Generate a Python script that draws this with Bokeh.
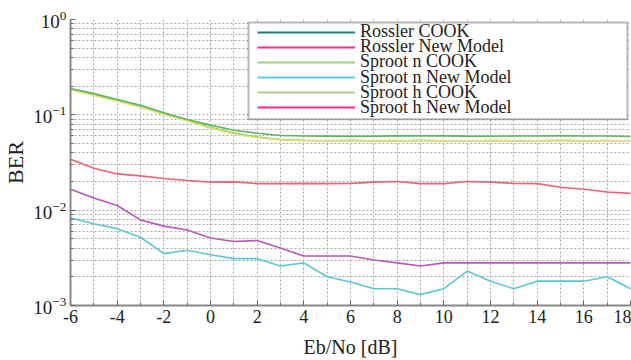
from bokeh.plotting import figure
from bokeh.models import (FixedTicker, LogTickFormatter, CustomJSTickFormatter, Legend,
                          LegendItem, ColumnDataSource, BoxAnnotation)
from bokeh.embed import file_html
from bokeh.resources import INLINE

# ---- data -------------------------------------------------------------
ebno = list(range(-6, 19))

rossler_cook = [0.189, 0.167, 0.145, 0.126, 0.105, 0.0895, 0.078, 0.069, 0.064, 0.0606,
                0.0599, 0.0598, 0.0594, 0.0597, 0.0602, 0.0604, 0.0601, 0.0598, 0.0597,
                0.0599, 0.0600, 0.0601, 0.0600, 0.0600, 0.0592]
sproot_n_cook = [0.183, 0.160, 0.139, 0.120, 0.101, 0.086, 0.0725, 0.063, 0.0575, 0.0545,
                 0.0535, 0.0538, 0.0532, 0.0536, 0.0540, 0.0534, 0.0537, 0.0533, 0.0536,
                 0.0538, 0.0534, 0.0537, 0.0535, 0.0533, 0.0534]
sproot_h_cook = [0.186, 0.163, 0.142, 0.123, 0.103, 0.087, 0.074, 0.0645, 0.0585, 0.0552,
                 0.0540, 0.0535, 0.0540, 0.0533, 0.0532, 0.0540, 0.0535, 0.0532, 0.0538,
                 0.0533, 0.0535, 0.0540, 0.0533, 0.0536, 0.0535]
rossler_new = [0.0342, 0.0275, 0.0240, 0.0229, 0.0215, 0.0205, 0.0197, 0.0198, 0.0190,
               0.0190, 0.0191, 0.0190, 0.0191, 0.0197, 0.0200, 0.0190, 0.0190, 0.0200,
               0.0197, 0.0191, 0.0190, 0.0174, 0.0166, 0.0155, 0.0150]
sproot_h_new = [0.0166, 0.0134, 0.0112, 0.0079, 0.0068, 0.0062, 0.0051, 0.0047, 0.0048,
                0.0040, 0.0033, 0.0033, 0.0033, 0.0030, 0.0028, 0.0026, 0.0028, 0.0028,
                0.0028, 0.0028, 0.0028, 0.0028, 0.0028, 0.0028, 0.0028]
sproot_n_new = [0.0083, 0.0072, 0.0064, 0.0052, 0.0035, 0.0038, 0.0034, 0.0031, 0.0031,
                0.0026, 0.0028, 0.0020, 0.00176, 0.0015, 0.0015, 0.0013, 0.0015, 0.0023,
                0.0018, 0.0015, 0.0018, 0.0018, 0.0018, 0.0020, 0.0015]

series_names = ["Rossler COOK", "Rossler New Model", "Sproot n COOK",
                "Sproot n New Model", "Sproot h COOK", "Sproot h New Model"]

x_ticks = list(range(-6, 19, 2))
x_minor = list(range(-5, 18, 2))
y_ticks = [1e-3, 1e-2, 1e-1, 1.0]
y_minor = [m * 10.0 ** e for e in (-3, -2, -1) for m in range(2, 10)]

# ---- figure -------------------------------------------------------------
FONT = "Liberation Serif"
W, H = 631, 360
FL, FT, FB = 70, 19, 306          # frame left / top / bottom in page pixels
p = figure(width=W, height=H, output_backend="svg", toolbar_location=None,
           y_axis_type="log", x_range=(-6, 18), y_range=(1e-3, 1.0),
           min_border_left=FL, min_border_right=1, min_border_top=FT,
           min_border_bottom=H - FB, background_fill_color="white",
           border_fill_color="white", outline_line_color=None)

src = ColumnDataSource(dict(x=ebno, rc=rossler_cook, snc=sproot_n_cook, shc=sproot_h_cook,
                            rn=rossler_new, shn=sproot_h_new, snn=sproot_n_new))

lw = 1.6
p.line("x", "shc", source=src, line_color="#8cc870", line_width=lw)
p.line("x", "snc", source=src, line_color="#e4e07a", line_width=lw)
p.line("x", "rc", source=src, line_color="#5cb860", line_width=lw)
p.line("x", "rn", source=src, line_color="#f26272", line_width=lw)
p.line("x", "shn", source=src, line_color="#b858b8", line_width=lw)
p.line("x", "snn", source=src, line_color="#5cc8d2", line_width=lw)

# ---- legend frame (page pixels -> data position) ------------------------
def x_at(px):
    return (px - FL) / ((W - 1 - FL) / 24.0) - 6

def y_at(py):
    return 10 ** (-3.0 * (py - FT) / (FB - FT))

frame_box = BoxAnnotation(left=x_at(248), right=x_at(627), top=y_at(22), bottom=y_at(119),
                          fill_color="white", fill_alpha=1.0,
                          line_color="#111111", line_width=2, level="annotation")
p.add_layout(frame_box)

# one single-row legend per entry, so rows can sit as close as in the reference
legend_colors = ["#1e8070", "#ff2a8a", "#a0d080", "#5ccfe6", "#a8d090", "#ff2a8a"]
row0, pitch, row_h = 32.7, 15.1, 22
for i, (name, col) in enumerate(zip(series_names, legend_colors)):
    r = p.line(x=[ebno[0]], y=[float("nan")], line_color=col, line_width=2)
    centre = row0 + i * pitch
    lg = Legend(items=[LegendItem(label=name, renderers=[r])],
                location=(257 - FL, FB - (centre + row_h / 2)), margin=0, padding=0,
                glyph_width=98, glyph_height=row_h, label_height=row_h,
                label_standoff=5, label_text_font=FONT, label_text_font_size="18px",
                label_text_color="#222222", border_line_color=None,
                background_fill_alpha=0.0)
    p.add_layout(lg)

# ---- axes ---------------------------------------------------------------
p.xaxis.ticker = FixedTicker(ticks=x_ticks, minor_ticks=x_minor)
p.xaxis.formatter = CustomJSTickFormatter(code="return String(tick);")
p.yaxis.ticker = FixedTicker(ticks=y_ticks, minor_ticks=y_minor)
p.yaxis.formatter = LogTickFormatter()

for ax in (p.xaxis[0], p.yaxis[0]):
    ax.axis_line_color = "#888888"
    ax.axis_line_width = 2
    ax.major_tick_in = 5
    ax.major_tick_out = 0
    ax.minor_tick_in = 3
    ax.minor_tick_out = 0
    ax.major_tick_line_color = "#666666"
    ax.minor_tick_line_color = "#666666"
    ax.major_label_text_font = FONT
    ax.major_label_text_font_size = "18px"
    ax.major_label_text_color = "#222222"
    ax.axis_label_text_font = FONT
    ax.axis_label_text_font_style = "normal"
    ax.axis_label_text_color = "#222222"

p.xaxis.axis_label = "Eb/No [dB]"
p.xaxis.axis_label_text_font_size = "20px"
p.xaxis.axis_label_standoff = 10
p.xaxis.major_label_standoff = 4
p.xaxis.major_label_text_align = "right"
p.yaxis.axis_label = "BER"
p.yaxis.axis_label_text_font_size = "22px"
p.yaxis.axis_label_standoff = 2
p.yaxis.major_label_standoff = 4
p.yaxis.major_label_text_font_size = "19px"

for g in (p.xgrid[0], p.ygrid[0]):
    g.grid_line_color = "#aaaaaa"
    g.grid_line_dash = "2 2"
    g.grid_line_width = 1
    g.minor_grid_line_color = "#aaaaaa"
    g.minor_grid_line_dash = "2 2"
    g.minor_grid_line_width = 1

open("out.html", "w").write(file_html(p, INLINE))
